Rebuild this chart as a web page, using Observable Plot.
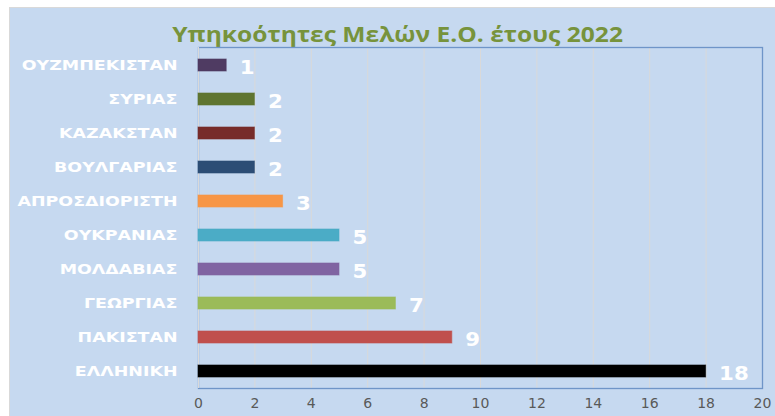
<!DOCTYPE html>
<html>
<head>
<meta charset="utf-8">
<script src="https://cdn.jsdelivr.net/npm/d3@7"></script>
<script src="https://cdn.jsdelivr.net/npm/@observablehq/plot@0.6"></script>
<style>
  html, body { margin: 0; padding: 0; background: #ffffff; }
  #wrap { position: relative; width: 775px; height: 416px; background: #ffffff; }
  #frame { position: absolute; left: 9px; top: 7px; width: 766px; height: 409px; background: #c6d9f0; border-top: 1px solid #d9d9d9; border-left: 1px solid #d9d9d9; box-sizing: border-box; }
  #title { position: absolute; left: 0; top: 20px; width: 795px; text-align: center; font-family: "Open Sans", sans-serif; font-weight: bold; font-size: 21px; color: #77933c; transform: scaleX(1.17); transform-origin: 397px 50%; white-space: nowrap; }
  #chart { position: absolute; left: 0; top: 0; }
</style>
</head>
<body>
<div id="wrap">
  <div id="frame"></div>
  <div id="title">Υπηκοότητες Μελών Ε.Ο. έτους 2022</div>
  <div id="chart"></div>
</div>
<script>
const categories = ["ΟΥΖΜΠΕΚΙΣΤΑΝ", "ΣΥΡΙΑΣ", "ΚΑΖΑΚΣΤΑΝ", "ΒΟΥΛΓΑΡΙΑΣ", "ΑΠΡΟΣΔΙΟΡΙΣΤΗ", "ΟΥΚΡΑΝΙΑΣ", "ΜΟΛΔΑΒΙΑΣ", "ΓΕΩΡΓΙΑΣ", "ΠΑΚΙΣΤΑΝ", "ΕΛΛΗΝΙΚΗ"];
const values = [1, 2, 2, 2, 3, 5, 5, 7, 9, 18];
const colors = ["#4f3b62", "#5f7530", "#772c2a", "#2c4d75", "#f79646", "#4bacc6", "#8064a2", "#9bbb59", "#c0504d", "#000000"];
const xTicks = [0, 2, 4, 6, 8, 10, 12, 14, 16, 18, 20];

const data = categories.map((c, i) => ({name: c, value: values[i], color: colors[i]}));

const chart = Plot.plot({
  width: 775,
  height: 416,
  marginLeft: 198,
  marginRight: 13,
  marginTop: 47,
  marginBottom: 28,
  style: {background: "transparent", overflow: "visible"},
  x: {domain: [0, 20], ticks: xTicks, label: null},
  y: {domain: categories, padding: 0, label: null},
  marks: [
    Plot.gridX(xTicks, {stroke: "#d9d9d9", strokeOpacity: 1, strokeWidth: 1}),
    Plot.frame({stroke: "#6f95c8", strokeWidth: 1.3}),
    Plot.ruleX([0], {stroke: "#d9d9d9"}),
    Plot.barX(data, {y: "name", x: "value", fill: "color", insetTop: 11, insetBottom: 11, stroke: "color", strokeOpacity: 0.6}),
    Plot.text(data, {y: "name", x: "value", text: d => String(d.value), dx: 13, textAnchor: "start", fill: "#ffffff", fontSize: 19, fontWeight: "bold", fontFamily: "DejaVu Sans", dy: 2}),
    Plot.axisY({tickSize: 0, tickPadding: 21, fill: "#ffffff", fontSize: 14, fontWeight: "bold", fontFamily: "DejaVu Sans", label: null}),
    Plot.axisX(xTicks, {tickSize: 0, tickPadding: 10, fill: "#595959", fontSize: 14, fontFamily: "DejaVu Sans", label: null})
  ]
});
document.getElementById("chart").appendChild(chart);
function stretch(selector, factor) {
  d3.select(chart).selectAll(selector).each(function() {
    const w = this.getComputedTextLength();
    if (w > 0) {
      this.setAttribute("textLength", (w * factor).toFixed(2));
      this.setAttribute("lengthAdjust", "spacingAndGlyphs");
    }
  });
}
stretch('g[aria-label="y-axis tick label"] text', 1.245);
stretch('g[aria-label="text"] text', 1.12);
</script>
</body>
</html>
